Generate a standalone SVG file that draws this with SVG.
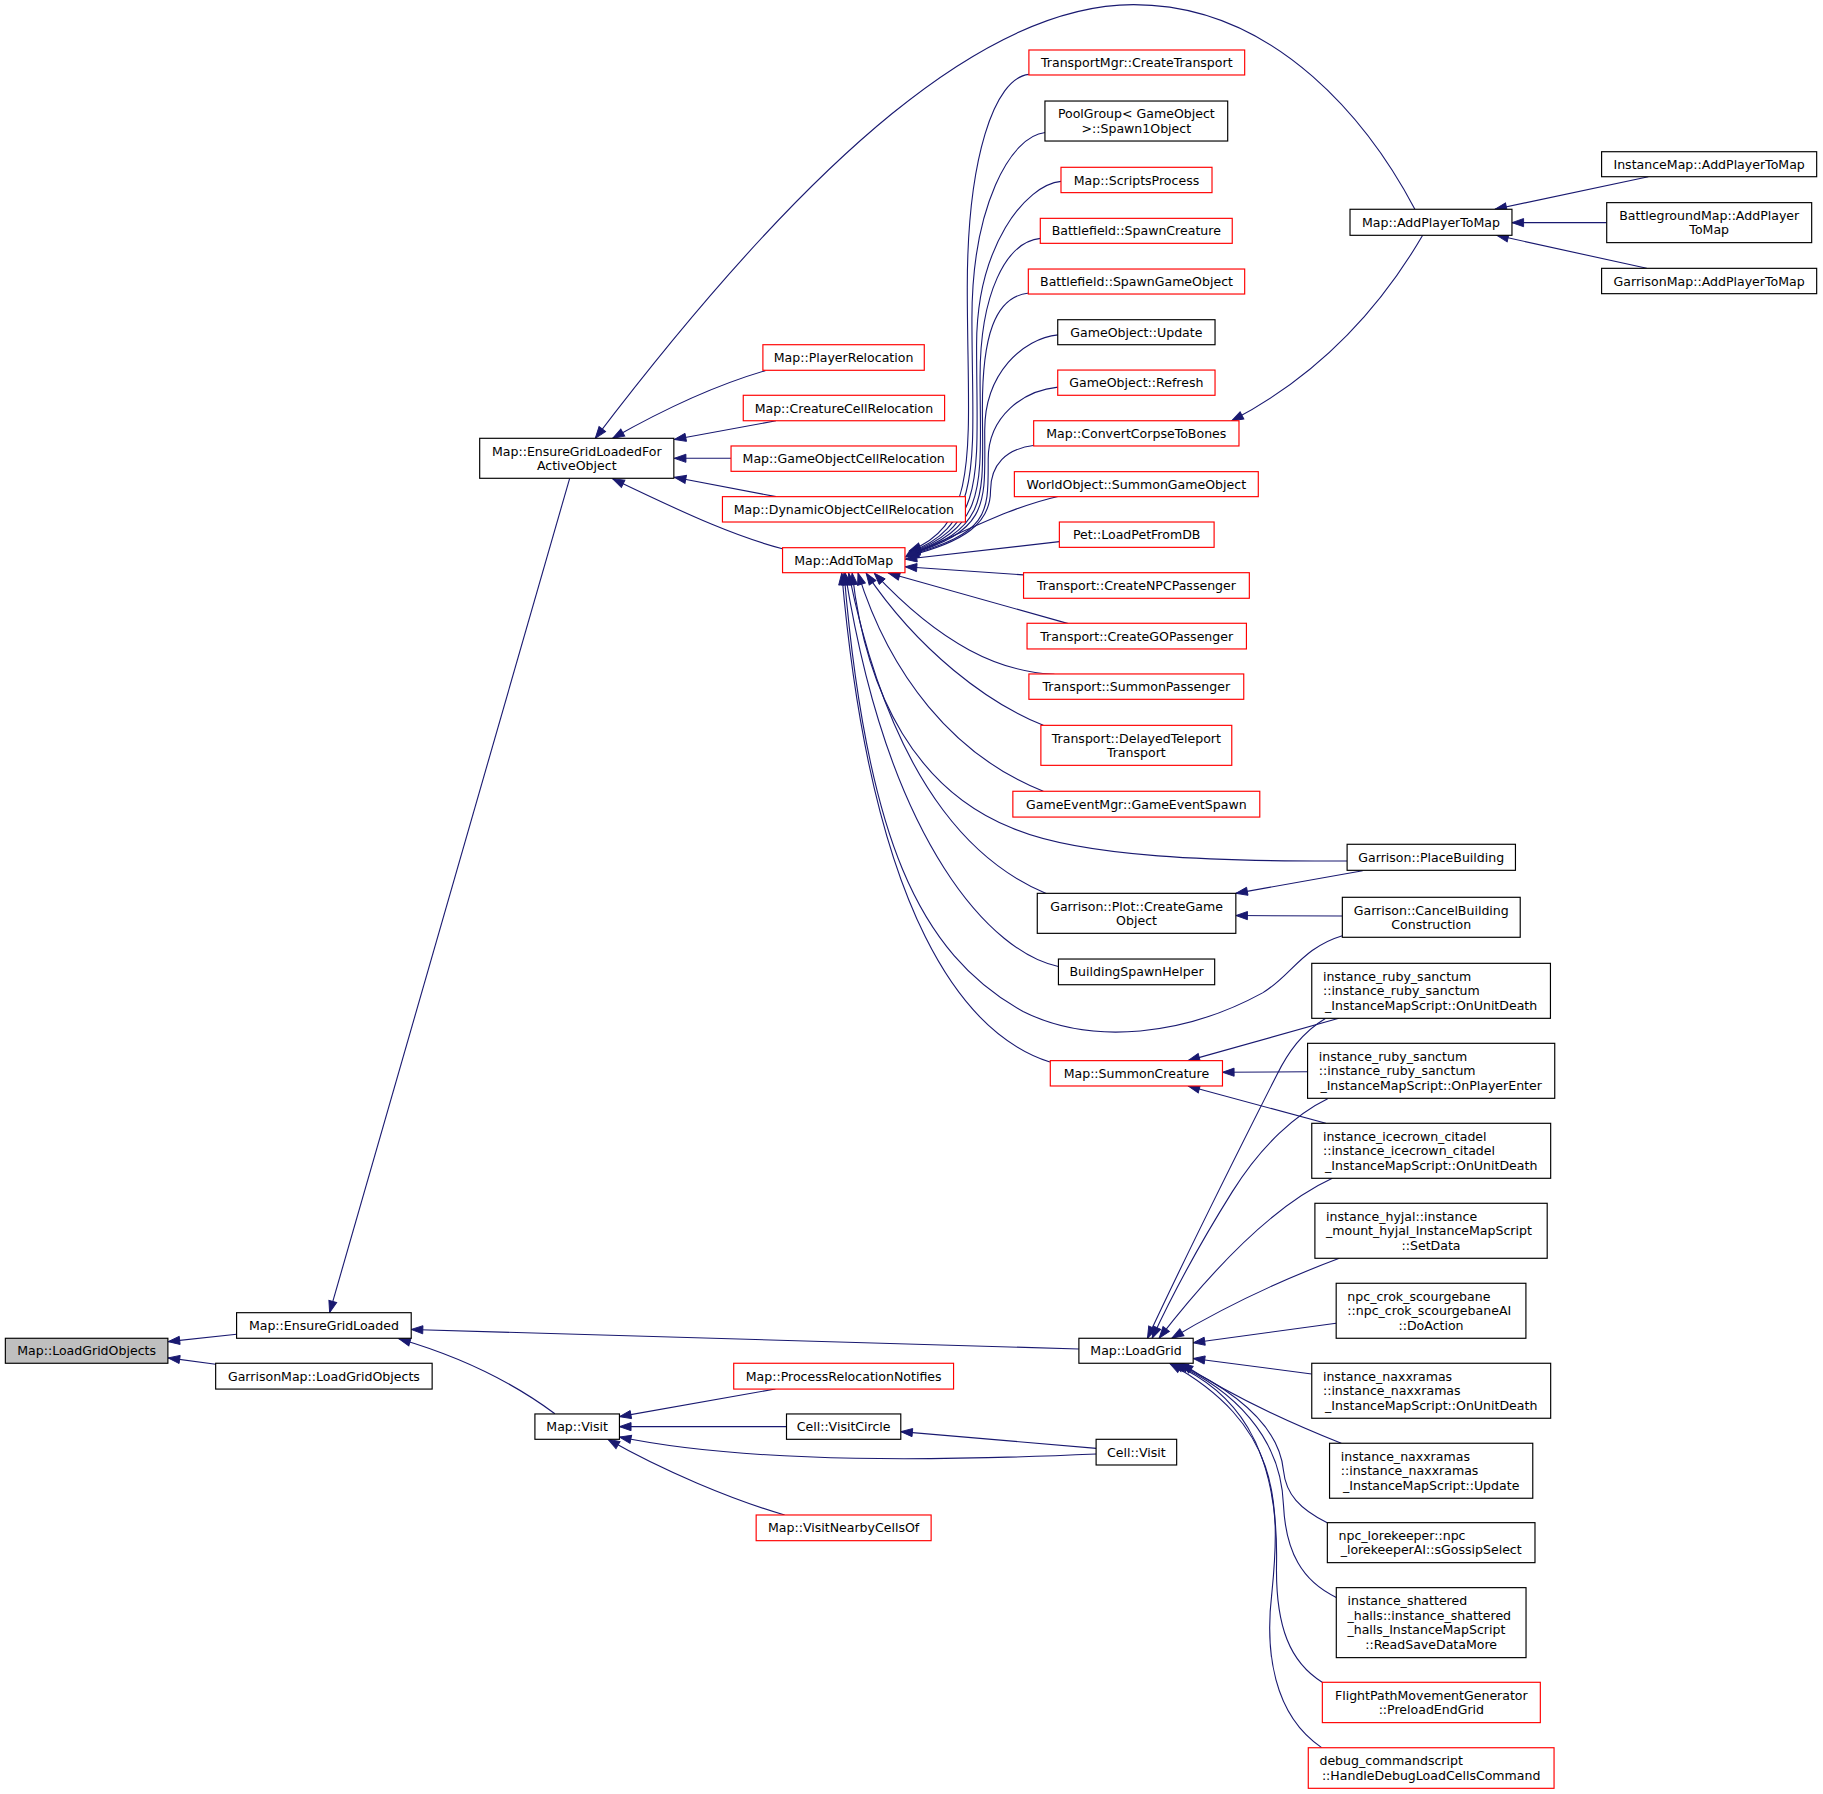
<svg xmlns="http://www.w3.org/2000/svg" width="1823" height="1794" viewBox="0 0 1823 1794">
<style>
.n rect{fill:#ffffff;stroke:#000000;stroke-width:1}
.r rect{fill:#ffffff;stroke:#ff0000;stroke-width:1}
.g rect{fill:#bfbfbf}
text{font-family:"DejaVu Sans","Liberation Sans",sans-serif;font-size:10.8px;fill:#000000;text-anchor:middle}
text.l{text-anchor:start}
#edges path{fill:none;stroke:#191970;stroke-width:0.95;marker-end:url(#a)}
</style>
<defs>
<marker id="a" viewBox="0 0 10 7" refX="10" refY="3.5" markerWidth="10" markerHeight="7" orient="auto" markerUnits="userSpaceOnUse" overflow="visible">
<path d="M0,0L10,3.5L0,7z" fill="#191970" stroke="#191970" stroke-width="0.8"/>
</marker>
</defs>
<rect x="0" y="0" width="1823" height="1794" fill="#ffffff"/>
<g transform="scale(1.1626)">
<g id="edges">
<path d="M203.5,1147.7 L144.6,1154"/>
<path d="M185.5,1173.5 L144.6,1168"/>
<path d="M490,411.4 L283.5,1129"/>
<path d="M928,1160.3 L353.7,1143.5"/>
<path d="M477.3,1216 C445,1192 400,1168 343,1151.5"/>
<path d="M673,472 C635,462 598,446 527,411.8"/>
<path d="M658.3,318.8 C620,330 578,348 527,377"/>
<path d="M667.5,361.9 L580,378"/>
<path d="M628.8,394.2 L580,394.2"/>
<path d="M667.5,427.2 L580,410.5"/>
<path d="M1217,180 C1180,110 1100,4 975,4 C850,4 700,130 512,377"/>
<path d="M1223.7,202.4 C1190,260 1140,320 1059.4,361.9"/>
<path d="M1417.8,152 L1285.9,180"/>
<path d="M1382,191.5 L1300.5,191.5"/>
<path d="M1416.4,230.8 L1287.4,202.4"/>
<path d="M885,64 C855,67 832,137 832,247 C832,380 845,450 782,474"/>
<path d="M899,114 C869,117 836,178 836,274 C836,392 848,452 782,475"/>
<path d="M912.6,156 C882,159 840,212 840,297 C840,407 850,453 781,476"/>
<path d="M895,205 C865,208 843,253 843,324 C843,416 852,454 781,476.5"/>
<path d="M885,252 C855,255 845,291 845,350 C845,426 853,455 781,477"/>
<path d="M910,288 C880,291 847,321 847,370 C847,433 853,456 780,477.5"/>
<path d="M910,333 C880,336 850,358 850,395 C850,442 852,458 780,478"/>
<path d="M890,383 C865,386 852,400 852,422 C852,450 830,466 780,478.5"/>
<path d="M910,427 C870,436 835,455 779,479"/>
<path d="M911.2,465.9 L778.6,481"/>
<path d="M880.2,494.5 L778.6,487.5"/>
<path d="M918.9,536.4 L764,492.8"/>
<path d="M907,580 C860,578 810,555 752,493"/>
<path d="M897.4,623.9 C850,605 790,560 745,493"/>
<path d="M897.4,680.6 C820,650 765,580 738,493"/>
<path d="M1158.7,740.6 C1050,741 930,738 870,712 C790,680 745,600 733,493"/>
<path d="M900.3,768.7 C850,748 770,690 730,493"/>
<path d="M910.3,831.3 C855,820 765,730 727,493"/>
<path d="M1154.6,804.8 C1120,815 1110,840 1086,854 C1020,890 940,900 880,870 C790,820 745,720 726,493"/>
<path d="M903.1,913.5 C830,890 750,790 724,493"/>
<path d="M1172.1,748.9 L1063,768.4"/>
<path d="M1154.6,787.9 L1063,787.5"/>
<path d="M1151.6,875.9 L1021.9,912.3"/>
<path d="M1124.7,921.8 L1051.5,922.3"/>
<path d="M1140.4,966.2 L1021.9,934.1"/>
<path d="M1140,876 C1120,888 1108,905 1098,925 C1060,1000 1020,1080 987,1151"/>
<path d="M1142,945 C1115,958 1085,985 1060,1025 C1035,1065 1010,1110 991,1151"/>
<path d="M1146,1013.5 C1110,1030 1060,1070 997,1151"/>
<path d="M1152,1082.3 C1110,1098 1060,1120 1008,1151"/>
<path d="M1149.2,1138.2 L1026.3,1155"/>
<path d="M1128.2,1181.8 L1026.3,1168.5"/>
<path d="M1153.7,1241.4 C1100,1220 1050,1195 1016,1172.6"/>
<path d="M1141.6,1309.7 C1118,1298 1106,1285 1104,1265 C1100,1225 1060,1195 1012,1172.6"/>
<path d="M1149.4,1374 C1120,1360 1106,1335 1104,1295 C1102,1235 1060,1195 1010,1172.6"/>
<path d="M1137.3,1447 C1110,1430 1097,1400 1098,1345 C1100,1240 1060,1195 1008,1172.6"/>
<path d="M1136.8,1503.2 C1095,1475 1088,1420 1094,1370 C1102,1290 1100,1225 1006,1172.6"/>
<path d="M667,1194.7 L532.8,1218.5"/>
<path d="M676.5,1227.1 L532.8,1227.1"/>
<path d="M943,1250.7 C820,1256 650,1260 532.8,1236"/>
<path d="M943.1,1245.8 L774.8,1231.4"/>
<path d="M674.9,1303.1 C630,1290 570,1265 522.9,1238"/>
</g>
<g id="n_LoadGridObjects" class="n g"><rect x="4.6" y="1151.1" width="139.8" height="21.5"/><text x="74.5" y="1165.8">Map::LoadGridObjects</text></g>
<g id="n_EnsureGridLoaded" class="n"><rect x="203.5" y="1129.1" width="150.2" height="22"/><text x="278.6" y="1144">Map::EnsureGridLoaded</text></g>
<g id="n_GarrisonMapLoadGridObjects" class="n"><rect x="185.5" y="1172.6" width="186.2" height="22.2"/><text x="278.6" y="1187.6">GarrisonMap::LoadGridObjects</text></g>
<g id="n_EnsureGridLoadedForActiveObject" class="n"><rect x="412.6" y="377" width="167" height="34.4"/><text x="496.1" y="391.85">Map::EnsureGridLoadedFor</text><text x="496.1" y="404.35">ActiveObject</text></g>
<g id="n_MapVisit" class="n"><rect x="460.1" y="1216.2" width="72.7" height="21.8"/><text x="496.45" y="1231">Map::Visit</text></g>
<g id="n_LoadGrid" class="n"><rect x="928" y="1151.1" width="98.3" height="21.5"/><text x="977.15" y="1165.8">Map::LoadGrid</text></g>
<g id="n_PlayerRelocation" class="r"><rect x="656.2" y="296.5" width="138.8" height="22"/><text x="725.6" y="311.4">Map::PlayerRelocation</text></g>
<g id="n_CreatureCellRelocation" class="r"><rect x="639.3" y="340" width="173.2" height="21.9"/><text x="725.9" y="354.85">Map::CreatureCellRelocation</text></g>
<g id="n_GameObjectCellRelocation" class="r"><rect x="628.8" y="383.6" width="193.8" height="21.8"/><text x="725.7" y="398.4">Map::GameObjectCellRelocation</text></g>
<g id="n_DynamicObjectCellRelocation" class="r"><rect x="621.4" y="427.2" width="209" height="21.8"/><text x="725.9" y="442">Map::DynamicObjectCellRelocation</text></g>
<g id="n_AddToMap" class="r"><rect x="673.1" y="471.1" width="105.3" height="21.5"/><text x="725.75" y="485.85">Map::AddToMap</text></g>
<g id="n_CreateTransport" class="r"><rect x="885" y="43" width="185.6" height="21.5"/><text x="977.8" y="57.65">TransportMgr::CreateTransport</text></g>
<g id="n_Spawn1Object" class="n"><rect x="898.8" y="86.9" width="157.2" height="34.4"/><text x="977.4" y="101.75">PoolGroup&lt; GameObject</text><text x="977.4" y="114.25">&gt;::Spawn1Object</text></g>
<g id="n_ScriptsProcess" class="r"><rect x="912.6" y="143.9" width="129.9" height="21.8"/><text x="977.55" y="158.7">Map::ScriptsProcess</text></g>
<g id="n_SpawnCreature" class="r"><rect x="894.8" y="187.8" width="165.1" height="21.5"/><text x="977.35" y="202.45">Battlefield::SpawnCreature</text></g>
<g id="n_SpawnGameObject" class="r"><rect x="884.5" y="231.4" width="186.1" height="21.5"/><text x="977.55" y="246.05">Battlefield::SpawnGameObject</text></g>
<g id="n_GameObjectUpdate" class="n"><rect x="909.8" y="275" width="135.3" height="21.5"/><text x="977.45" y="289.65">GameObject::Update</text></g>
<g id="n_GameObjectRefresh" class="r"><rect x="909.8" y="318.3" width="135.3" height="21.7"/><text x="977.45" y="333.05">GameObject::Refresh</text></g>
<g id="n_ConvertCorpseToBones" class="r"><rect x="889.1" y="361.9" width="176.6" height="21.7"/><text x="977.4" y="376.65">Map::ConvertCorpseToBones</text></g>
<g id="n_SummonGameObject" class="r"><rect x="872.5" y="405.7" width="209.8" height="21.5"/><text x="977.4" y="420.35">WorldObject::SummonGameObject</text></g>
<g id="n_LoadPetFromDB" class="r"><rect x="911.2" y="449" width="133.1" height="21.8"/><text x="977.75" y="463.8">Pet::LoadPetFromDB</text></g>
<g id="n_CreateNPCPassenger" class="r"><rect x="880.4" y="492.6" width="194.2" height="22"/><text x="977.5" y="507.5">Transport::CreateNPCPassenger</text></g>
<g id="n_CreateGOPassenger" class="r"><rect x="883.4" y="536.1" width="188.7" height="22.1"/><text x="977.75" y="551.05">Transport::CreateGOPassenger</text></g>
<g id="n_SummonPassenger" class="r"><rect x="885" y="579.7" width="184.8" height="21.8"/><text x="977.4" y="594.5">Transport::SummonPassenger</text></g>
<g id="n_DelayedTeleportTransport" class="r"><rect x="895.3" y="623.9" width="164.2" height="34.4"/><text x="977.4" y="638.75">Transport::DelayedTeleport</text><text x="977.4" y="651.25">Transport</text></g>
<g id="n_GameEventSpawn" class="r"><rect x="871.2" y="680.6" width="212.4" height="22.2"/><text x="977.4" y="695.6">GameEventMgr::GameEventSpawn</text></g>
<g id="n_PlaceBuilding" class="n"><rect x="1158.7" y="726.2" width="144.8" height="22.4"/><text x="1231.1" y="741.3">Garrison::PlaceBuilding</text></g>
<g id="n_CreateGameObject" class="n"><rect x="892.2" y="768.4" width="170.8" height="34.4"/><text x="977.6" y="783.25">Garrison::Plot::CreateGame</text><text x="977.6" y="795.75">Object</text></g>
<g id="n_CancelBuildingConstruction" class="n"><rect x="1154.6" y="771.8" width="153" height="34.4"/><text x="1231.1" y="786.65">Garrison::CancelBuilding</text><text x="1231.1" y="799.15">Construction</text></g>
<g id="n_BuildingSpawnHelper" class="n"><rect x="910.4" y="824.9" width="134.4" height="22.1"/><text x="977.6" y="839.85">BuildingSpawnHelper</text></g>
<g id="n_SummonCreature" class="r"><rect x="903.4" y="912.3" width="148.1" height="21.8"/><text x="977.45" y="927.1">Map::SummonCreature</text></g>
<g id="n_RubyOnUnitDeath" class="n"><rect x="1128.3" y="828.6" width="205.3" height="47.3"/><text class="l" x="1137.9" y="843.65">instance_ruby_sanctum</text><text class="l" x="1137.9" y="856.15">::instance_ruby_sanctum</text><text x="1230.95" y="868.65">_InstanceMapScript::OnUnitDeath</text></g>
<g id="n_RubyOnPlayerEnter" class="n"><rect x="1124.7" y="897.4" width="212.6" height="47.3"/><text class="l" x="1134.3" y="912.45">instance_ruby_sanctum</text><text class="l" x="1134.3" y="924.95">::instance_ruby_sanctum</text><text x="1231" y="937.45">_InstanceMapScript::OnPlayerEnter</text></g>
<g id="n_IcecrownOnUnitDeath" class="n"><rect x="1128.3" y="966.2" width="205.5" height="47.3"/><text class="l" x="1137.9" y="981.25">instance_icecrown_citadel</text><text class="l" x="1137.9" y="993.75">::instance_icecrown_citadel</text><text x="1231.05" y="1006.25">_InstanceMapScript::OnUnitDeath</text></g>
<g id="n_HyjalSetData" class="n"><rect x="1131" y="1035" width="199.8" height="47.3"/><text class="l" x="1140.6" y="1050.05">instance_hyjal::instance</text><text class="l" x="1140.6" y="1062.55">_mount_hyjal_InstanceMapScript</text><text x="1230.9" y="1075.05">::SetData</text></g>
<g id="n_CrokDoAction" class="n"><rect x="1149.3" y="1103.8" width="163.2" height="47.3"/><text class="l" x="1158.9" y="1118.85">npc_crok_scourgebane</text><text class="l" x="1158.9" y="1131.35">::npc_crok_scourgebaneAI</text><text x="1230.9" y="1143.85">::DoAction</text></g>
<g id="n_NaxxOnUnitDeath" class="n"><rect x="1128.3" y="1172.6" width="205.5" height="47.3"/><text class="l" x="1137.9" y="1187.65">instance_naxxramas</text><text class="l" x="1137.9" y="1200.15">::instance_naxxramas</text><text x="1231.05" y="1212.65">_InstanceMapScript::OnUnitDeath</text></g>
<g id="n_NaxxUpdate" class="n"><rect x="1143.6" y="1241.4" width="174.8" height="47.3"/><text class="l" x="1153.2" y="1256.45">instance_naxxramas</text><text class="l" x="1153.2" y="1268.95">::instance_naxxramas</text><text x="1231" y="1281.45">_InstanceMapScript::Update</text></g>
<g id="n_LorekeeperGossipSelect" class="n"><rect x="1141.7" y="1309.7" width="178.6" height="34.4"/><text class="l" x="1151.3" y="1324.55">npc_lorekeeper::npc</text><text x="1231" y="1337.05">_lorekeeperAI::sGossipSelect</text></g>
<g id="n_ShatteredReadSaveDataMore" class="n"><rect x="1149.4" y="1365.6" width="163.2" height="60.2"/><text class="l" x="1159" y="1380.85">instance_shattered</text><text class="l" x="1159" y="1393.35">_halls::instance_shattered</text><text class="l" x="1159" y="1405.85">_halls_InstanceMapScript</text><text x="1231" y="1418.35">::ReadSaveDataMore</text></g>
<g id="n_PreloadEndGrid" class="r"><rect x="1137.4" y="1447" width="187.5" height="34.7"/><text x="1231.15" y="1462">FlightPathMovementGenerator</text><text x="1231.15" y="1474.5">::PreloadEndGrid</text></g>
<g id="n_HandleDebugLoadCellsCommand" class="r"><rect x="1125.3" y="1503.3" width="211.4" height="34.9"/><text class="l" x="1134.9" y="1518.4">debug_commandscript</text><text x="1231" y="1530.9">::HandleDebugLoadCellsCommand</text></g>
<g id="n_ProcessRelocationNotifies" class="r"><rect x="631.1" y="1172.6" width="189.1" height="22.2"/><text x="725.65" y="1187.6">Map::ProcessRelocationNotifies</text></g>
<g id="n_VisitCircle" class="n"><rect x="676.5" y="1216.2" width="98.3" height="21.8"/><text x="725.65" y="1231">Cell::VisitCircle</text></g>
<g id="n_CellVisit" class="n"><rect x="942.8" y="1238" width="69.3" height="22.1"/><text x="977.45" y="1252.95">Cell::Visit</text></g>
<g id="n_VisitNearbyCellsOf" class="r"><rect x="650.4" y="1303.1" width="150.5" height="22.1"/><text x="725.65" y="1318.05">Map::VisitNearbyCellsOf</text></g>
<g id="n_AddPlayerToMap" class="n"><rect x="1161.2" y="180" width="139.3" height="22.4"/><text x="1230.85" y="195.1">Map::AddPlayerToMap</text></g>
<g id="n_InstanceMapAddPlayerToMap" class="n"><rect x="1377.6" y="130.5" width="185" height="21.5"/><text x="1470.1" y="145.15">InstanceMap::AddPlayerToMap</text></g>
<g id="n_BattlegroundMapAddPlayerToMap" class="n"><rect x="1382" y="174.3" width="176.3" height="34.4"/><text x="1470.15" y="189.15">BattlegroundMap::AddPlayer</text><text x="1470.15" y="201.65">ToMap</text></g>
<g id="n_GarrisonMapAddPlayerToMap" class="n"><rect x="1377.6" y="230.8" width="185" height="21.8"/><text x="1470.1" y="245.6">GarrisonMap::AddPlayerToMap</text></g>
</g>
</svg>
